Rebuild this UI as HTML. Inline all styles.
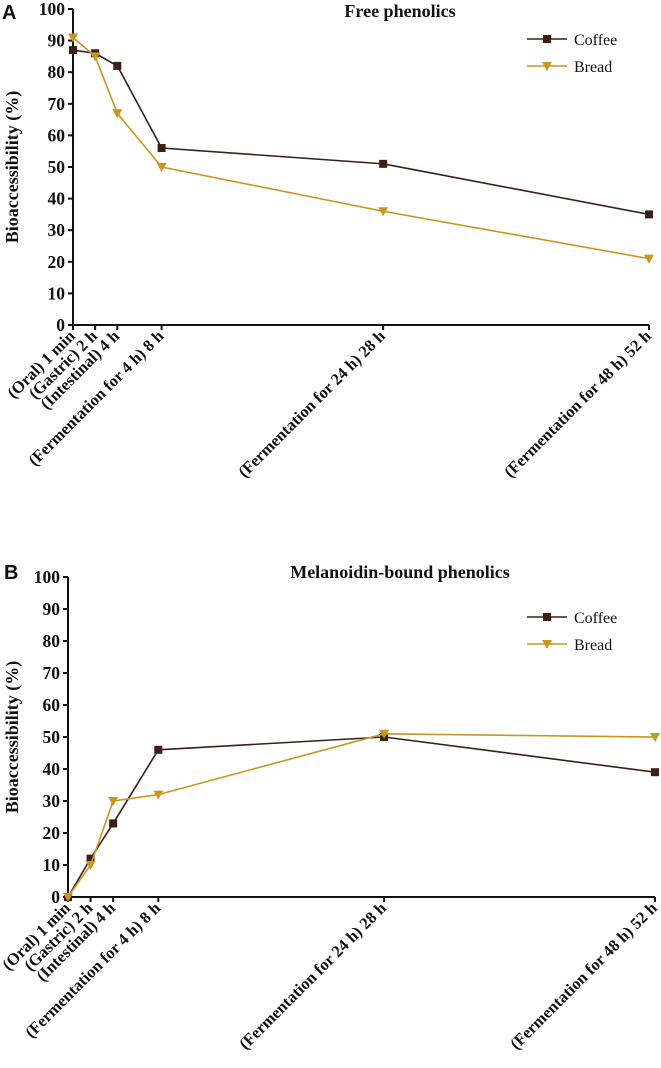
<!DOCTYPE html>
<html><head><meta charset="utf-8"><style>
body{margin:0;background:#fff;}
svg text{font-family:"Liberation Serif",serif;font-weight:bold;fill:#111;}
</style></head><body>
<svg id="chart" width="661" height="1063" viewBox="0 0 661 1063" xmlns="http://www.w3.org/2000/svg"></svg>
<script>
const hours = [0, 2, 4, 8, 28, 52];
const categories = ["(Oral) 1 min","(Gastric) 2 h","(Intestinal) 4 h","(Fermentation for 4 h) 8 h","(Fermentation for 24 h) 28 h","(Fermentation for 48 h) 52 h"];
const yTicks = [0,10,20,30,40,50,60,70,80,90,100];
const freeCoffee = [87, 86, 82, 56, 51, 35];
const freeBread = [91, 85, 67, 50, 36, 21];
const boundCoffee = [0, 12, 23, 46, 50, 39];
const boundBread = [0, 10, 30, 32, 51, 50];

const svg = document.getElementById('chart');
const NS = 'http://www.w3.org/2000/svg';
function el(tag, attrs, parent){const e=document.createElementNS(NS,tag);for(const k in attrs)e.setAttribute(k,attrs[k]);(parent||svg).appendChild(e);return e;}

const panels = [
 {letter:'A',title:'Free phenolics',x0:73,x1:649,y0:325,y100:9,coffee:freeCoffee,bread:freeBread,legendY:39,titleX:400,titleY:17,name:'free'},
 {letter:'B',title:'Melanoidin-bound phenolics',x0:68,x1:655,y0:897,y100:577,coffee:boundCoffee,bread:boundBread,legendY:617,titleX:400,titleY:578,name:'bound'}
];

panels.forEach(p=>{
  const g = el('g',{});
  
  
  const xs = h => p.x0 + (p.x1-p.x0)*h/52;
  const ys = v => p.y0 - (p.y0-p.y100)*v/100;
  const L = el('text',{x:p.letter==='A'?2:4,y:p.letter==='A'?19:p.y100+2,'font-size':20,style:'font-family:"Liberation Sans",sans-serif'},g);
  L.textContent=p.letter;
  
  
  const t = el('text',{x:p.titleX,y:p.titleY,'font-size':18,'text-anchor':'middle'},g);
  t.textContent=p.title;
  
  
  const ya = el('line',{x1:p.x0,y1:p.y100,x2:p.x0,y2:p.y0,stroke:'#111','stroke-width':2},g);
  
  
  const xa = el('line',{x1:p.x0,y1:p.y0,x2:p.x1,y2:p.y0,stroke:'#111','stroke-width':2},g);
  
  
  yTicks.forEach(v=>{
    el('line',{x1:p.x0-5,y1:ys(v),x2:p.x0,y2:ys(v),stroke:'#111','stroke-width':2},g);
    const tt = el('text',{x:p.x0-8,y:ys(v)+6,'font-size':17.5,'text-anchor':'end'},g);
    tt.textContent=v;
    
    
  });
  hours.forEach((h,i)=>{
    el('line',{x1:xs(h),y1:p.y0,x2:xs(h),y2:p.y0+5,stroke:'#111','stroke-width':2},g);
    const tx=xs(h)+3, ty=p.y0+12;
    const tt = el('text',{x:tx,y:ty,'font-size':16.5,'text-anchor':'end',transform:`rotate(-45 ${tx} ${ty})`},g);
    tt.textContent=categories[i];
    
    
  });
  const yl = el('text',{x:0,y:0,'font-size':18,'text-anchor':'middle',transform:`translate(18 ${(p.y0+p.y100)/2}) rotate(-90)`},g);
  yl.textContent='Bioaccessibility (%)';
  
  
  const series=[{vals:p.coffee,color:'#3b1f14',name:'coffee',marker:'square'},{vals:p.bread,color:'#c9961e',name:'bread',marker:'tri'}];
  series.forEach(s=>{
    const pl = el('polyline',{points:s.vals.map((v,i)=>xs(hours[i])+','+ys(v)).join(' '),fill:'none',stroke:s.color,'stroke-width':1.6},g);
    
    
    s.vals.forEach((v,i)=>{
      const cx=xs(hours[i]), cy=ys(v);
      let m;
      if(s.marker==='square') m=el('rect',{x:cx-4,y:cy-4,width:8,height:8,fill:s.color},g);
      else m=el('polygon',{points:`${cx-5},${cy-4} ${cx+5},${cy-4} ${cx},${cy+5}`,fill:s.color},g);
      
      
    });
  });
  series.forEach((s,k)=>{
    const ly=p.legendY+k*27, lx=527;
    const lg=el('g',{},g);
    
    
    el('line',{x1:lx,y1:ly,x2:lx+40,y2:ly,stroke:s.color,'stroke-width':1.6},lg);
    if(s.marker==='square') el('rect',{x:lx+16,y:ly-4,width:8,height:8,fill:s.color},lg);
    else el('polygon',{points:`${lx+15},${ly-4} ${lx+25},${ly-4} ${lx+20},${ly+5}`,fill:s.color},lg);
    const lt=el('text',{x:lx+47,y:ly+6,'font-size':16,style:'font-weight:normal'},lg);
    lt.textContent=s.name==='coffee'?'Coffee':'Bread';
  });
});
</script>
</body></html>
